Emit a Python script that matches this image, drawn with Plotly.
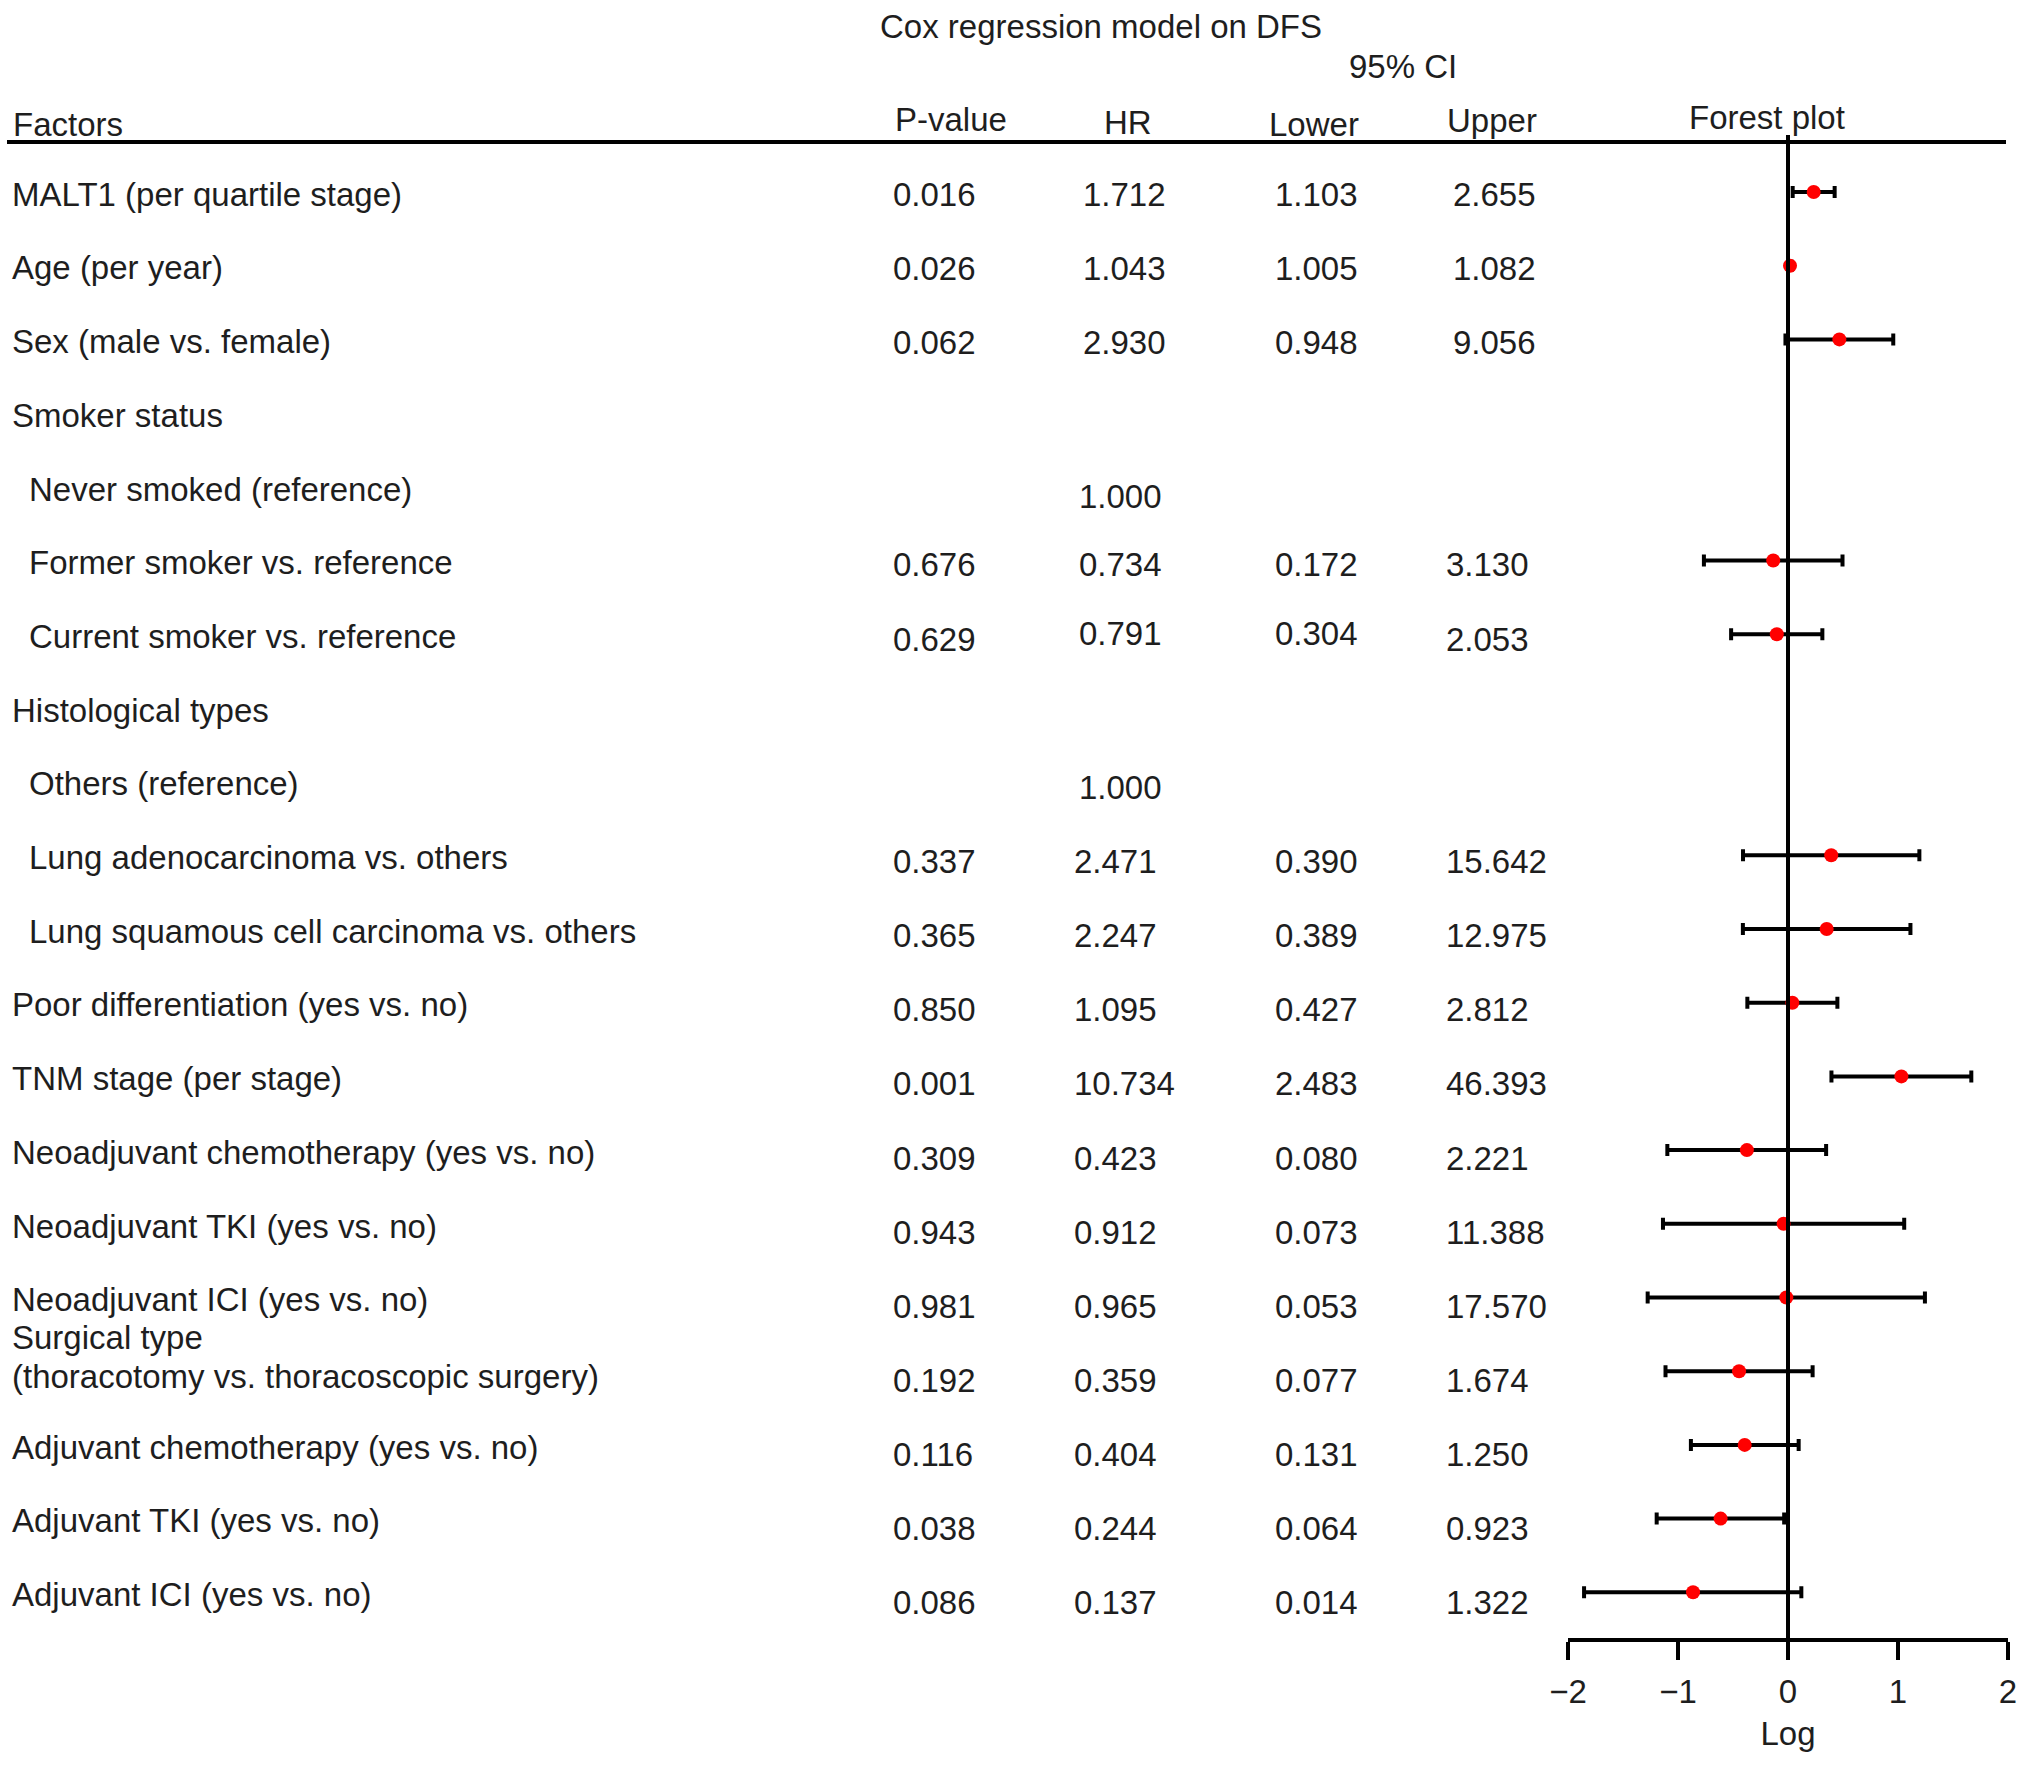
import numpy as np
import plotly.graph_objects as go

W, H = 2032, 1766
FONT = "Liberation Sans, Arial, Helvetica, sans-serif"
TXT = "#1e1e1e"
FS = 33

factors = [
    "MALT1 (per quartile stage)", "Age (per year)", "Sex (male vs. female)",
    "Smoker status", "Never smoked (reference)", "Former smoker vs. reference",
    "Current smoker vs. reference", "Histological types", "Others (reference)",
    "Lung adenocarcinoma vs. others", "Lung squamous cell carcinoma vs. others",
    "Poor differentiation (yes vs. no)", "TNM stage (per stage)",
    "Neoadjuvant chemotherapy (yes vs. no)", "Neoadjuvant TKI (yes vs. no)",
    "Neoadjuvant ICI (yes vs. no)",
    "Surgical type<br>(thoracotomy vs. thoracoscopic surgery)",
    "Adjuvant chemotherapy (yes vs. no)", "Adjuvant TKI (yes vs. no)",
    "Adjuvant ICI (yes vs. no)",
]
indented = [0, 0, 0, 0, 1, 1, 1, 0, 1, 1, 1, 0, 0, 0, 0, 0, 0, 0, 0, 0]
p_value = [0.016, 0.026, 0.062, None, None, 0.676, 0.629, None, None, 0.337,
           0.365, 0.850, 0.001, 0.309, 0.943, 0.981, 0.192, 0.116, 0.038, 0.086]
hr = [1.712, 1.043, 2.930, None, 1.000, 0.734, 0.791, None, 1.000, 2.471,
      2.247, 1.095, 10.734, 0.423, 0.912, 0.965, 0.359, 0.404, 0.244, 0.137]
lower = [1.103, 1.005, 0.948, None, None, 0.172, 0.304, None, None, 0.390,
         0.389, 0.427, 2.483, 0.080, 0.073, 0.053, 0.077, 0.131, 0.064, 0.014]
upper = [2.655, 1.082, 9.056, None, None, 3.130, 2.053, None, None, 15.642,
         12.975, 2.812, 46.393, 2.221, 11.388, 17.570, 1.674, 1.250, 0.923, 1.322]
tick_vals = [-2, -1, 0, 1, 2]


# pixel helpers
def fx(px):
    return px / W


def fy(py):
    return 1 - py / H


ROW0, STEP = 192, 73.7  # first row centre and row pitch in px
rows = np.arange(len(factors))

# only rows that have a confidence interval get a point
has_ci = [i for i in rows if lower[i] is not None]
log_hr = np.log10([hr[i] for i in has_ci])
log_lo = np.log10([lower[i] for i in has_ci])
log_up = np.log10([upper[i] for i in has_ci])

fig = go.Figure()
fig.add_trace(go.Scatter(
    x=log_hr, y=has_ci, mode="markers",
    marker=dict(color="#ff0000", size=14),
    error_x=dict(type="data", symmetric=False,
                 array=log_up - log_hr, arrayminus=log_hr - log_lo,
                 color="black", thickness=4, width=6),
    showlegend=False, cliponaxis=False,
))

ann = []


def txt(x, y, s, yref="y"):
    ann.append(dict(x=x, y=y, xref="paper", yref=yref, text=s, showarrow=False,
                    xanchor="left", yanchor="middle", align="left",
                    font=dict(family=FONT, size=FS, color=TXT)))


# headers
txt(fx(878), fy(27), "Cox regression model on DFS", "paper")
txt(fx(1347), fy(66), "95% CI", "paper")
txt(fx(11), fy(124), "Factors", "paper")
txt(fx(893), fy(119), "P-value", "paper")
txt(fx(1102), fy(122), "HR", "paper")
txt(fx(1267), fy(124), "Lower", "paper")
txt(fx(1445), fy(121), "Upper", "paper")
txt(fx(1687), fy(118), "Forest plot", "paper")

# the typeset table is not perfectly regular: small per-row nudges
hr_dx = {0: 9, 1: 9, 2: 9, 4: 5, 5: 5, 6: 5, 8: 5}
up_dx = {0: 7, 1: 7, 2: 7}
hr_dy = {4: 0.08, 6: -0.08}

for i in rows:
    x_lab = fx(27 if indented[i] else 10)
    lines = factors[i].split("<br>")
    if len(lines) == 1:
        txt(x_lab, i + 0.03, lines[0])
    else:
        # two-line label sits a little above its row
        txt(x_lab, i - 0.46, lines[0])
        txt(x_lab, i + 0.07, lines[1])
    vy = i * 1.006 + 0.03
    if p_value[i] is not None:
        txt(fx(891), vy, f"{p_value[i]:.3f}")
    if hr[i] is not None:
        txt(fx(1072 + hr_dx.get(i, 0)), vy + hr_dy.get(i, 0), f"{hr[i]:.3f}")
    if lower[i] is not None:
        txt(fx(1273), vy + hr_dy.get(i, 0), f"{lower[i]:.3f}")
        txt(fx(1444 + up_dx.get(i, 0)), vy, f"{upper[i]:.3f}")

shapes = [
    # rule under the header
    dict(type="line", xref="paper", yref="paper", x0=fx(7), x1=fx(2006),
         y0=fy(142), y1=fy(142), line=dict(color="black", width=4)),
    # line of no effect
    dict(type="line", xref="x", yref="paper", x0=0, x1=0,
         y0=fy(135), y1=fy(1640), line=dict(color="black", width=4)),
]

fig.update_layout(
    width=W, height=H,
    margin=dict(l=0, r=0, t=0, b=0, pad=0, autoexpand=False),
    paper_bgcolor="white", plot_bgcolor="rgba(0,0,0,0)",
    annotations=ann, shapes=shapes,
    font=dict(family=FONT, size=FS, color=TXT),
    xaxis=dict(domain=[fx(1568), fx(2008)], range=[-2, 2],
               anchor="free", position=fy(1640), automargin=False,
               showline=True, linecolor="black", linewidth=4,
               ticks="outside", ticklen=18, tickwidth=4, tickcolor="black",
               tickvals=tick_vals, showgrid=False, zeroline=False,
               tickfont=dict(size=FS, color=TXT), ticklabelstandoff=3,
               title=dict(text="Log", font=dict(size=FS, color=TXT), standoff=12)),
    yaxis=dict(domain=[0, 1], range=[(H - ROW0) / STEP, -ROW0 / STEP],
               visible=False, showgrid=False, zeroline=False, automargin=False),
)

fig.write_html("out.html", config={"displayModeBar": False},
               post_script="document.body.style.margin='0';")
